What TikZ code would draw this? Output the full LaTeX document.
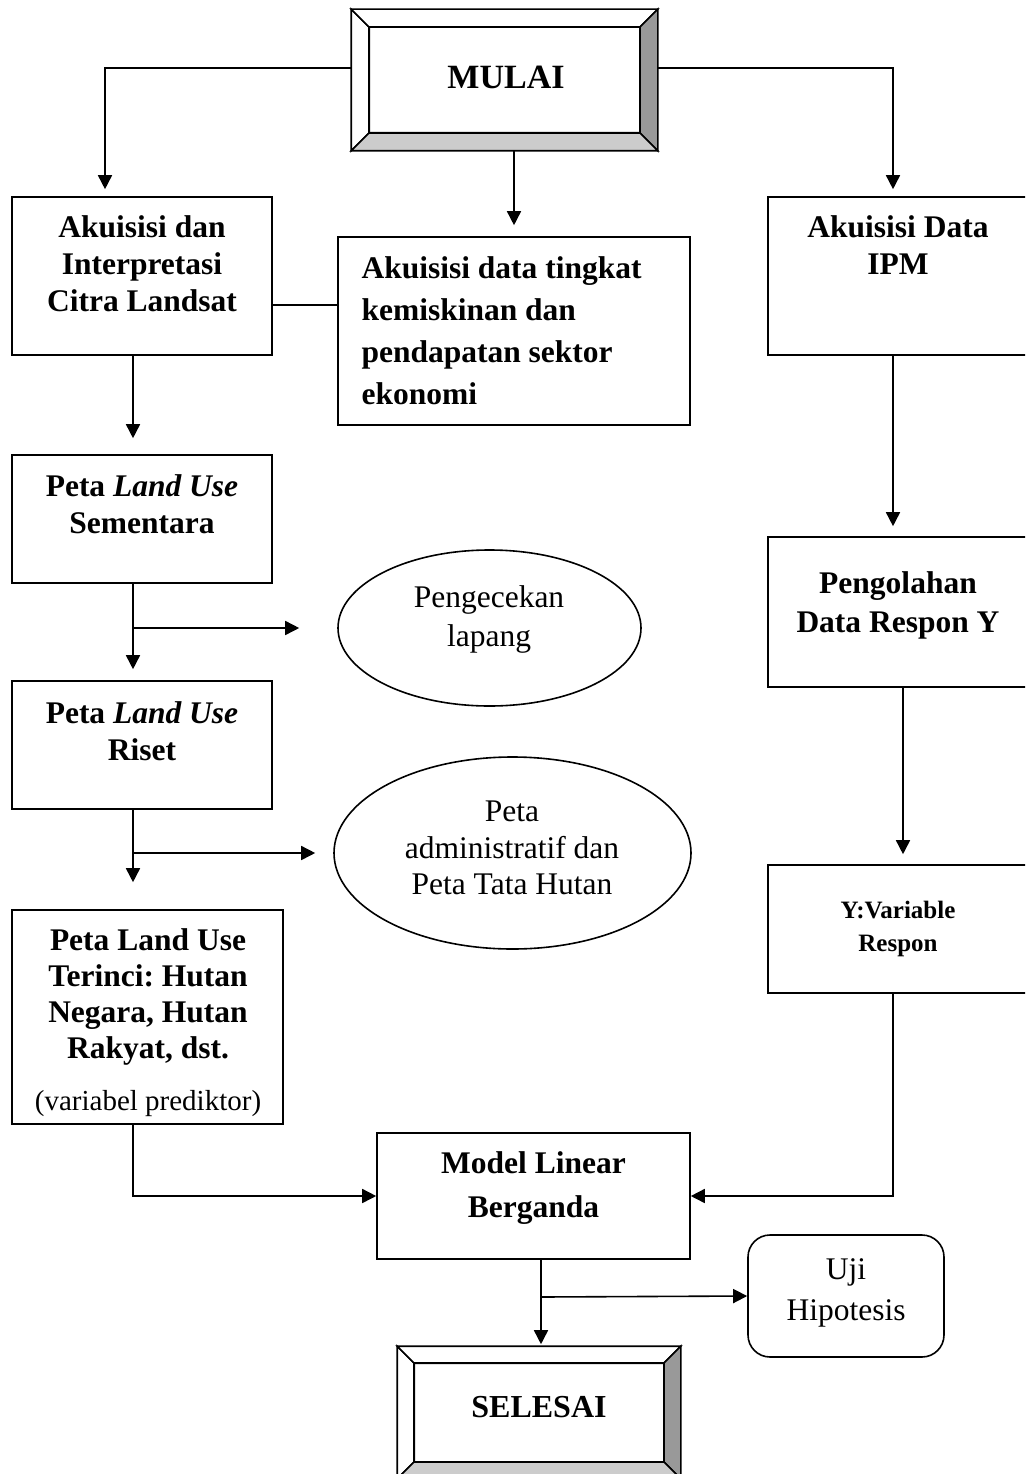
\documentclass[tikz,border=0pt]{standalone}
\usepackage{fontspec}
\setmainfont{Liberation Serif}
\usetikzlibrary{arrows.meta,shapes.geometric}

\definecolor{abutua}{HTML}{999999}
\definecolor{abumuda}{HTML}{CCCCCC}

\tikzset{
  kotak/.style={draw, line width=1.6pt, inner sep=0pt},
  tebal/.style={font={\fontsize{31.5}{37}\selectfont\bfseries}, align=center},
  tipis/.style={font={\fontsize{31.5}{39}\selectfont}, align=center},
  garis/.style={line width=1.6pt},
  panah/.style={line width=1.6pt, -{Triangle[length=14pt,width=14pt]}},
}

% bingkai timbul untuk MULAI dan SELESAI
\newcommand{\bingkai}[2]{%
  \filldraw[fill=white, garis] (#1.north west) -- (#1.south west) -- ([shift={(#2,#2)}]#1.south west) -- ([shift={(#2,-#2)}]#1.north west) -- cycle;
  \filldraw[fill=white, garis] (#1.north west) -- (#1.north east) -- ([shift={(-#2,-#2)}]#1.north east) -- ([shift={(#2,-#2)}]#1.north west) -- cycle;
  \filldraw[fill=abutua, garis] (#1.north east) -- (#1.south east) -- ([shift={(-#2,#2)}]#1.south east) -- ([shift={(-#2,-#2)}]#1.north east) -- cycle;
  \filldraw[fill=abumuda, garis] (#1.south west) -- (#1.south east) -- ([shift={(-#2,#2)}]#1.south east) -- ([shift={(#2,#2)}]#1.south west) -- cycle;
  \draw[garis] ([shift={(#2,-#2)}]#1.north west) rectangle ([shift={(-#2,#2)}]#1.south east);
}

\begin{document}
\frenchspacing
\begin{tikzpicture}[x=1pt,y=-1pt]
    \useasboundingbox (0,0) rectangle (1025,1474);
    \clip (0,0) rectangle (1025,1474);

    % Mulai
    \node[kotak, minimum width=305pt, minimum height=140pt] (mulai) at (504.5,80) {};
    \bingkai{mulai}{18pt}
    \node[tebal, font={\fontsize{34}{40}\selectfont\bfseries}] (mulai-t) at (506,77) {MULAI};

    % Kolom kiri
    \node[kotak, minimum width=260pt, minimum height=158pt] (citra) at (142,276) {};
    \node[tebal] (citra-t) at (142,264) {Akuisisi dan\\Interpretasi\\Citra Landsat};

    \node[kotak, minimum width=260pt, minimum height=128pt] (sementara) at (142,519) {};
    \node[tebal] (sementara-t) at (142,504.5) {Peta \textit{Land Use}\\Sementara};

    \node[kotak, minimum width=260pt, minimum height=128pt] (riset) at (142,745) {};
    \node[tebal] (riset-t) at (142,731.5) {Peta \textit{Land Use}\\Riset};

    \node[kotak, minimum width=271pt, minimum height=214pt] (terinci) at (147.5,1017) {};
    \node[tebal, font={\fontsize{31.5}{36}\selectfont\bfseries}] (terinci-t) at (148,996.5) {Peta Land Use\\Terinci: Hutan\\Negara, Hutan\\Rakyat, dst.};
    \node[tipis, font={\fontsize{29}{34}\selectfont}] (prediktor-t) at (148,1104) {(variabel prediktor)};

    % Kolom tengah
    \node[kotak, minimum width=352pt, minimum height=188pt] (kemiskinan) at (514,331) {};
    \node[tebal, font={\fontsize{31.5}{42}\selectfont\bfseries}, align=left, anchor=west] (kemiskinan-t) at (358,330.5) {Akuisisi data tingkat\\kemiskinan dan\\pendapatan sektor\\ekonomi};

    \node[kotak, ellipse, minimum width=303pt, minimum height=156pt] (cek) at (489.5,628) {};
    \node[tipis] (cek-t) at (489,619) {Pengecekan\\lapang};

    \node[kotak, ellipse, minimum width=357pt, minimum height=192pt] (peta) at (512.5,853) {};
    \node[tipis, font={\fontsize{31.5}{36.5}\selectfont}] (peta-t) at (512,848) {Peta\\administratif dan\\Peta Tata Hutan};

    \node[kotak, minimum width=313pt, minimum height=126pt] (model) at (533.5,1196) {};
    \node[tebal, font={\fontsize{31.5}{44}\selectfont\bfseries}] (model-t) at (533.5,1188) {Model Linear\\Berganda};

    \node[kotak, minimum width=282pt, minimum height=131pt] (selesai) at (539,1412.5) {};
    \bingkai{selesai}{17pt}
    \node[tebal, font={\fontsize{32}{38}\selectfont\bfseries}] (selesai-t) at (539,1407) {SELESAI};

    \node[kotak, rounded corners=22pt, minimum width=196pt, minimum height=122pt] (uji) at (846,1296) {};
    \node[tipis, font={\fontsize{31.5}{41}\selectfont}] (uji-t) at (846,1293) {Uji\\Hipotesis};

    % Kolom kanan
    \node[kotak, minimum width=260pt, minimum height=158pt] (ipm) at (898,276) {};
    \node[tebal] (ipm-t) at (898,245.5) {Akuisisi Data\\IPM};

    \node[kotak, minimum width=260pt, minimum height=150pt] (olah) at (898,612) {};
    \node[tebal, font={\fontsize{31.5}{38.5}\selectfont\bfseries}] (olah-t) at (898,605.5) {Pengolahan\\Data Respon Y};

    \node[kotak, minimum width=260pt, minimum height=128pt] (respon) at (898,929) {};
    \node[tebal, font={\fontsize{25}{33}\selectfont\bfseries}] (respon-t) at (898,929) {Y:Variable\\Respon};

    % Panah dari MULAI
    \draw[panah, shorten >=7pt] ([yshift=12pt]mulai.west) -| ([xshift=-37pt]citra.north);
    \draw[panah, shorten >=7pt] ([yshift=12pt]mulai.east) -| ([xshift=-5pt]ipm.north);
    \draw[panah, shorten >=11pt] (mulai.south -| kemiskinan.north) -- (kemiskinan.north);
    \draw[garis] ([yshift=-29pt]citra.east) -- ([yshift=26pt]kemiskinan.west);

    % Alur kiri
    \draw[panah, shorten >=16pt] ([xshift=-9pt]citra.south) -- ([xshift=-9pt]sementara.north);
    \draw[panah, shorten >=11pt] ([xshift=-9pt]sementara.south) -- ([xshift=-9pt]riset.north);
    \coordinate (cabang1) at (133,628);
    \draw[panah, shorten >=38pt] (cabang1) -- (cabang1 -| cek.west);
    \draw[panah, shorten >=27pt] ([xshift=-9pt]riset.south) -- ([xshift=-14.5pt]terinci.north);
    \coordinate (cabang2) at (133,853);
    \draw[panah, shorten >=18pt] (cabang2) -- (cabang2 -| peta.west);
    \draw[panah] ([xshift=-14.5pt]terinci.south) |- (model.west);

    % Alur kanan
    \draw[panah, shorten >=10pt] ([xshift=-5pt]ipm.south) -- ([xshift=-5pt]olah.north);
    \draw[panah, shorten >=10pt] ([xshift=5pt]olah.south) -- ([xshift=5pt]respon.north);
    \draw[panah] ([xshift=-5pt]respon.south) |- (model.east);

    % Ke SELESAI dan uji hipotesis
    \draw[panah, shorten >=2pt] ([xshift=7.5pt]model.south) -- ([xshift=7.5pt]model.south |- selesai.north);
    \coordinate (cabang3) at (541,1297);
    \draw[panah] (cabang3) -- (uji.west);
\end{tikzpicture}
\end{document}
